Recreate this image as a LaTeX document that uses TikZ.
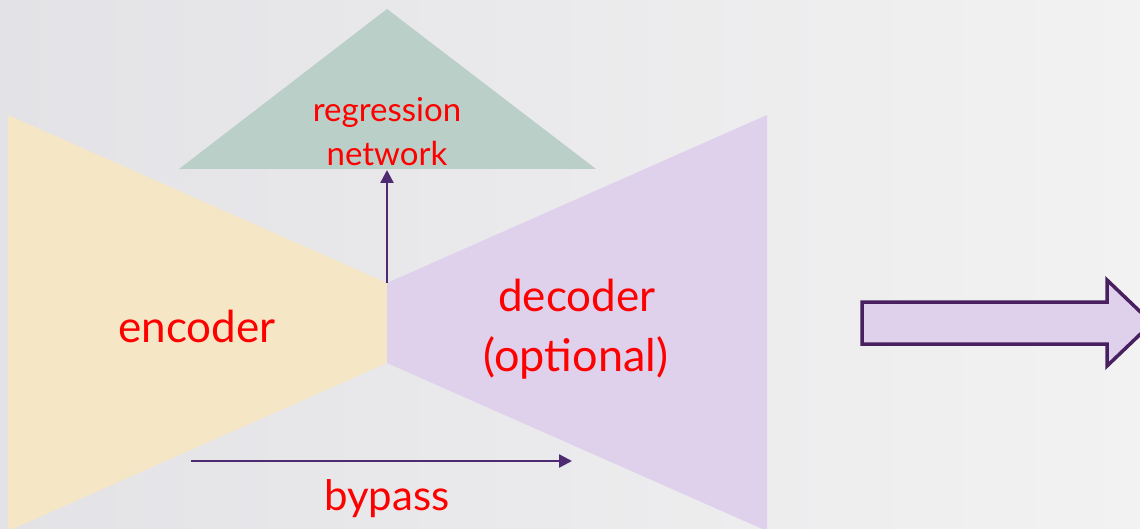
\documentclass[tikz,border=0pt]{standalone}
\usepackage{fontspec}
\setmainfont{Lato}
\usetikzlibrary{arrows.meta,calc}
\definecolor{bgleft}{RGB}{227,226,230}
\definecolor{bgright}{RGB}{242,242,242}
\definecolor{encfill}{RGB}{245,230,198}
\definecolor{decfill}{RGB}{223,208,236}
\definecolor{regfill}{RGB}{186,207,200}
\definecolor{arrowcol}{RGB}{78,42,114}
\definecolor{blockedge}{RGB}{72,32,96}
\tikzset{
  lbl/.style={text=red, inner sep=0pt, anchor=base, align=center},
  conn/.style={draw=arrowcol, line width=2.4pt, -{Triangle[length=13pt,width=13pt]}},
}
\begin{document}
\begin{tikzpicture}[x=1pt,y=-1pt]
\useasboundingbox (0,0) rectangle (1140,529);
\begin{scope}
\clip (0,0) rectangle (1140,529);
\shade[left color=bgleft, right color=bgright] (0,0) rectangle (1140,529);
% encoder
\fill[encfill] (8,115) -- (387,283) -- (387,363) -- (8,531) -- cycle;
% decoder
\fill[decfill] (387,283) -- (767,115) -- (767,531) -- (387,363) -- cycle;
% regression network
\fill[regfill] (387,9) -- (596,169) -- (179,169) -- cycle;
% block arrow
\draw[blockedge, fill=decfill, line width=3.5pt, line join=miter]
  (862,302) -- (1107,302) -- (1107,280) -- (1152,323) -- (1107,366) -- (1107,344) -- (862,344) -- cycle;
\end{scope}
\node[lbl, font=\fontsize{33}{33}\selectfont] (reg1) at (387,122) {regression};
\node[lbl, font=\fontsize{33}{33}\selectfont] (reg2) at (387,166) {network};
\node[lbl, font=\fontsize{44}{44}\selectfont] (enc) at (197,342) {encoder};
\node[lbl, font=\fontsize{44}{44}\selectfont] (dec1) at (577,312) {decoder};
\node[lbl, font=\fontsize{45}{45}\selectfont] (dec2) at (576,371) {(optional)};
\node[lbl, font=\fontsize{42}{42}\selectfont] (byp) at (387,510) {bypass};
\coordinate (neck) at (387,283);
\coordinate (regbase) at (387,170);
\coordinate (bypstart) at (191,461);
\coordinate (bypend) at (572,461);
\draw[conn] (neck) -- (regbase);
\draw[conn] (bypstart) -- (bypend);
\end{tikzpicture}
\end{document}
